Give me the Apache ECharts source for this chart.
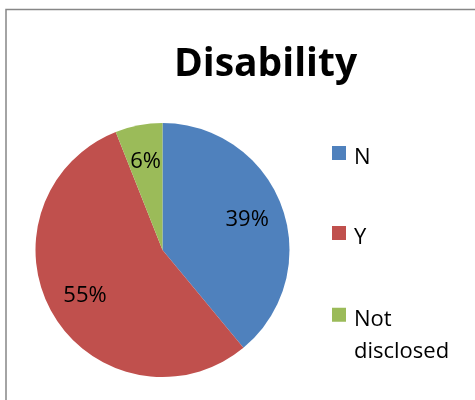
<!DOCTYPE html>
<html>
<head>
<meta charset="utf-8">
<script src="https://cdn.jsdelivr.net/npm/echarts@6/dist/echarts.min.js"></script>
<style>html,body{margin:0;padding:0;background:#fff}#c{width:475px;height:400px}</style>
</head>
<body>
<div id="c"></div>
<script>
const categories = ['N', 'Y', 'Not disclosed'];
const values = [39, 55, 6];
const colors = ['#4F81BD', '#C0504D', '#9BBB59'];
const titleText = 'Disability';

const chart = echarts.init(document.getElementById('c'), null, {renderer: 'canvas'});
const data = categories.map((n, i) => ({name: n, value: values[i], itemStyle: {color: colors[i]}}));
const font = '"Open Sans", sans-serif';
// marker square sits at the top of the icon box so it lines up with the first text line
function legendFor(name, top, boxH) {
  return {
    data: [name], orient: 'vertical', left: 332, top: top, padding: 0,
    itemWidth: 14, itemHeight: boxH, selectedMode: false,
    icon: 'path://M0,0h14v14h-14zM0,' + boxH + 'h0.01v0.01h-0.01z',
    formatter: n => n.replace(' ', '\n'),
    textStyle: {fontFamily: font, fontSize: 22, color: '#000', lineHeight: boxH > 30 ? 32 : 27,
      padding: [0, 0, 0, 3]}
  };
}
chart.setOption({
  animation: false,
  title: {text: titleText, left: 265.5, top: 45, padding: 0, textAlign: 'center',
    textStyle: {fontFamily: font, fontWeight: 'bold', fontSize: 39, color: '#000'}},
  legend: [legendFor('N', 144.5, 24), legendFor('Y', 224.5, 24), legendFor('Not disclosed', 303.7, 56)],
  graphic: [{type: 'rect', shape: {x: 6, y: 9.5, width: 500, height: 500}, silent: true,
    style: {fill: 'none', stroke: '#878787', lineWidth: 1.5}}],
  series: [
    {type: 'pie', center: [162.5, 250], radius: 127, startAngle: 90, clockwise: true,
      data: data, label: {show: false}, labelLine: {show: false}, silent: true,
      emphasis: {disabled: true}},
    {type: 'pie', center: [162.5, 250], radius: [0, 174], startAngle: 90, clockwise: true,
      data: categories.map((n, i) => ({name: n, value: values[i]})),
      itemStyle: {color: 'rgba(0,0,0,0)'}, silent: true, emphasis: {disabled: true},
      label: {show: true, position: 'inside', formatter: '{c}%', fontFamily: font, fontSize: 22, color: '#000'},
      labelLine: {show: false}}
  ]
});
</script>
</body>
</html>
